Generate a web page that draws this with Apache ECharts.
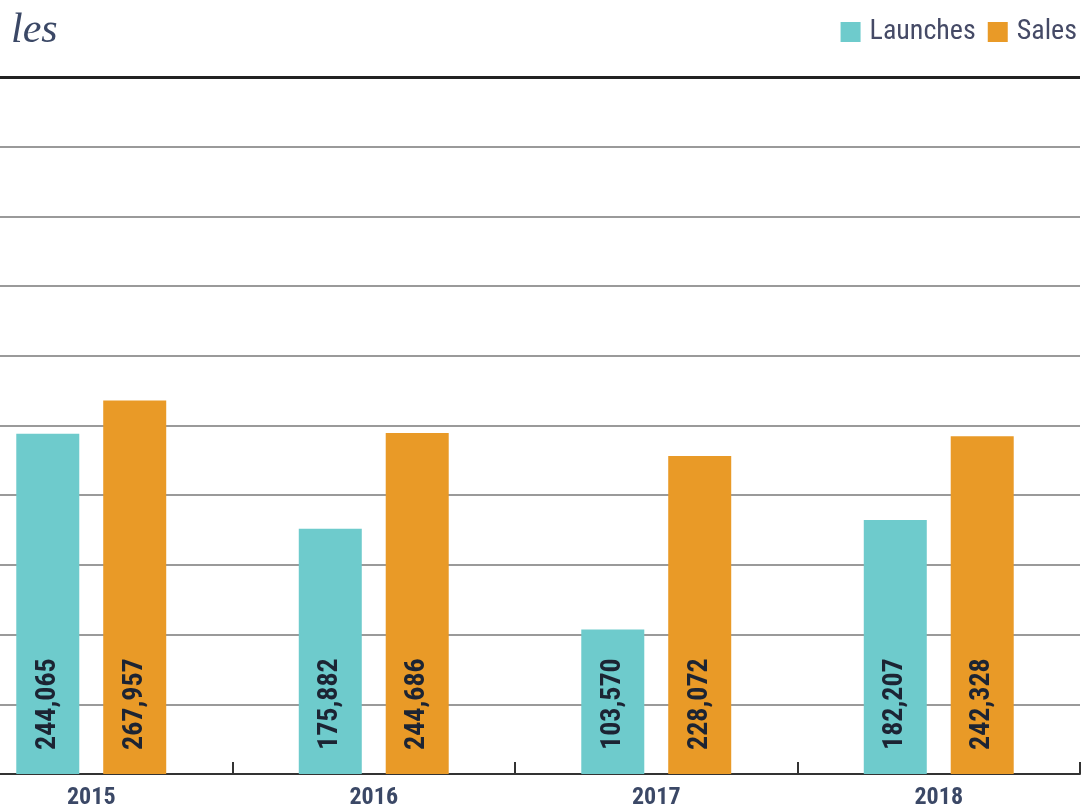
<!DOCTYPE html>
<html>
<head>
<meta charset="utf-8">
<script src="https://cdn.jsdelivr.net/npm/echarts@6/dist/echarts.min.js"></script>
<style>
html,body{margin:0;padding:0;background:#fff;overflow:hidden;width:1086px;height:812px;}
#chart{width:1136px;height:812px;margin-left:-50px;}
</style>
</head>
<body>
<div id="chart"></div>
<script>
const categories = ['2015', '2016', '2017', '2018'];
const launches = [244065, 175882, 103570, 182207];
const sales = [267957, 244686, 228072, 242328];
const seriesNames = ['Launches', 'Sales'];
const titleText = 'les';

const narrow = '"Liberation Sans Narrow", "Arial Narrow", "Roboto Condensed", "Liberation Sans", sans-serif';
const chart = echarts.init(document.getElementById('chart'));
const labelFmt = p => p.value.toLocaleString('en-US');
const label = {
  show: true,
  position: 'insideBottom',
  rotate: 90,
  align: 'left',
  verticalAlign: 'middle',
  distance: 24,
  color: '#1c2433',
  fontFamily: narrow,
  fontWeight: 'bold',
  fontSize: 28,
  formatter: labelFmt
};
chart.setOption({
  animation: false,
  title: {
    text: titleText,
    left: 56,
    top: 5,
    textStyle: {
      fontFamily: '"Liberation Serif", "DejaVu Serif", serif',
      fontStyle: 'italic',
      fontWeight: 'normal',
      fontSize: 42,
      color: '#3b4866'
    }
  },
  legend: {
    right: 4,
    top: 13,
    itemWidth: 20,
    itemHeight: 20,
    itemGap: 12,
    icon: 'rect',
    textStyle: {
      fontFamily: narrow,
      fontSize: 28,
      color: '#454a66',
      padding: [0, 0, 0, 4]
    },
    data: seriesNames
  },
  grid: {
    left: 0,
    right: 6,
    top: 77,
    bottom: 38,
    containLabel: false
  },
  xAxis: {
    type: 'category',
    data: categories,
    axisLine: { lineStyle: { color: '#333', width: 2 } },
    axisTick: { show: true, inside: true, length: 12, lineStyle: { color: '#333', width: 2 } },
    axisLabel: {
      margin: 12,
      fontFamily: narrow,
      fontWeight: 'bold',
      fontSize: 24,
      color: '#3b4866'
    }
  },
  yAxis: {
    type: 'value',
    min: 0,
    max: 500000,
    interval: 50000,
    axisLabel: { show: false },
    axisLine: { show: false },
    axisTick: { show: false },
    splitLine: { lineStyle: { color: '#9a9a9a', width: 2 } }
  },
  series: [
    {
      name: seriesNames[0],
      type: 'bar',
      data: launches,
      barWidth: 63,
      barGap: '38%',
      itemStyle: { color: '#6ecbcc' },
      label: label,
      markLine: {
        silent: true,
        symbol: 'none',
        label: { show: false },
        lineStyle: { color: '#222', width: 3, type: 'solid' },
        data: [{ yAxis: 500000 }]
      }
    },
    {
      name: seriesNames[1],
      type: 'bar',
      data: sales,
      barWidth: 63,
      itemStyle: { color: '#e99a27' },
      label: label
    }
  ]
});
</script>
</body>
</html>
